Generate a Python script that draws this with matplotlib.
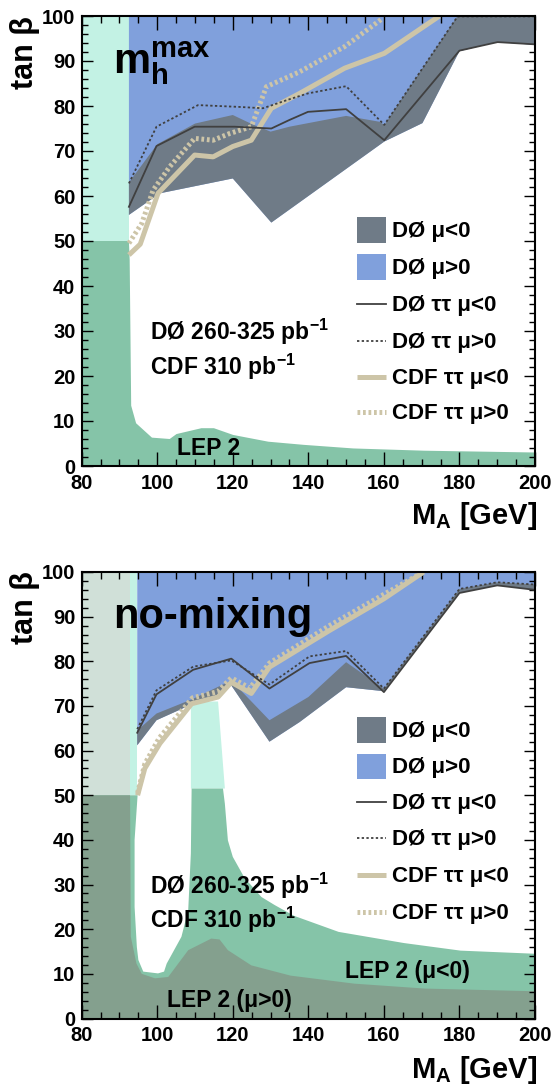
import numpy as np
import matplotlib.pyplot as plt
from matplotlib.patches import Rectangle

plt.rcParams['font.family'] = ['Liberation Sans', 'DejaVu Sans']
plt.rcParams['font.weight'] = 'bold'
plt.rcParams['mathtext.fontset'] = 'custom'
plt.rcParams['mathtext.rm'] = 'Liberation Sans:bold'
plt.rcParams['mathtext.bf'] = 'Liberation Sans:bold'
plt.rcParams['mathtext.it'] = 'Liberation Sans:bold'

# colours
c_gray = '#6f7b87'
c_blue = '#80a0dc'
c_tan = '#cdc5a8'
c_cyan = '#c3f2e4'
c_green = '#85c4a8'
c_lgray = '#d0e0d8'
c_dgreen = '#84a08e'
c_line = '#404040'

# ---------------- m_h^max panel ----------------
lep_x_top = [80, 80, 92.5, 92.7, 93.1, 94.4, 98.6, 103.3, 105.1, 111.7, 115, 120.1, 129.4, 138.8, 151.9, 170.6, 200, 200]
lep_y_top = [0, 50, 50, 45.8, 13.4, 9.5, 6.3, 6.0, 7.1, 8.4, 8.4, 6.9, 5.4, 4.7, 3.9, 3.4, 3.0, 0]
theo_x_top = [80, 92.5]
theo_y_top = [50, 100]

gray_up_x_top = [92.5, 100, 110, 120, 125, 130, 135, 150, 158.8, 160.1, 179.5, 200]
gray_up_y_top = [63, 71.5, 76.1, 78, 76, 74.3, 75.4, 77.8, 76.5, 75.8, 100, 100]
gray_lo_x_top = [92.5, 100.7, 120, 130.2, 160.1, 170.2, 180, 190, 200]
gray_lo_y_top = [55.8, 60.6, 63.9, 54.1, 72.1, 76.2, 92.2, 94.2, 93.6]
blue_x0_top, blue_x1_top = 92.5, 179.5

d0n_x_top = [92.5, 99.8, 109.9, 120.5, 130.2, 135, 139.9, 150, 160.1, 180, 190.1, 200]
d0n_y_top = [57.6, 71.1, 75.4, 75.4, 75.0, 76.9, 78.7, 79.3, 72.4, 92.3, 94.2, 93.7]
d0p_x_top = [92.5, 99.8, 110.8, 121.6, 128, 135, 139.9, 150, 160.1, 179.5, 200]
d0p_y_top = [62.8, 75.4, 80.2, 79.8, 79.5, 81.5, 82.8, 84.4, 75.8, 99.9, 99.9]
cdfn_x_top = [92.5, 95.5, 100.2, 109.9, 114.8, 120, 124.9, 130.2, 137.7, 149.6, 160.1, 174.7]
cdfn_y_top = [46.9, 49.3, 60.6, 69.1, 68.7, 71, 72.4, 79.5, 82.8, 88.4, 91.7, 100]
cdfp_x_top = [92.5, 95.9, 98.9, 103.3, 109.9, 114.8, 119.2, 124.9, 128.9, 137.7, 149.6, 159.7]
cdfp_y_top = [49.5, 53.9, 61.3, 66.5, 72.8, 72.4, 73.9, 75.4, 84.3, 87.6, 93.2, 99.5]

# ---------------- no-mixing panel ----------------
lepn_x_bot = [80, 80, 94.8, 94.0, 94.0, 94.6, 95.0, 96.3, 100.2, 101.8, 102.5, 106.4, 108.2, 108.9, 109.1,
              117.4, 117.9, 118.7, 120, 123.1, 127.6, 131.1, 136.2, 148, 165.3, 180.3, 200, 200]
lepn_y_bot = [0, 50, 50, 40, 25, 16, 13.1, 10.5, 10.1, 10.5, 12.3, 18.3, 24.3, 37, 51.5,
              51.5, 48.1, 39.9, 36.2, 31.5, 27.2, 25.4, 23, 19.4, 16.9, 15.2, 14.5, 0]
lepp_x_bot = [80, 80, 92.8, 93.0, 94.5, 95.9, 99.4, 102.9, 108.2, 114.3, 116.5, 118.7, 124.9, 135.3, 152.2, 170.9, 200, 200]
lepp_y_bot = [0, 50, 50, 18.3, 12.3, 10.0, 9.0, 9.3, 15.3, 17.9, 17.7, 15.3, 11.9, 9.6, 7.8, 6.7, 6.1, 0]
theon_x_bot = [80, 94.7]
theop_x_bot = [80, 92.8]
theo_y_bot = [50, 100]
peak_x_bot = [108.9, 108.9, 116.1, 117.9]
peak_y_bot = [51.5, 71, 71, 51.5]

gray_up_x_bot = [94.7, 99.8, 109.5, 119.6, 129.7, 140, 150, 160, 180, 190, 200]
gray_up_y_bot = [64.5, 68.3, 71.6, 75.7, 66.8, 72.0, 79.8, 73.9, 96.2, 97.7, 97.2]
gray_lo_x_bot = [94.7, 99.8, 109.5, 116, 119.6, 129.7, 137.7, 150, 160, 180, 190, 200]
gray_lo_y_bot = [61.2, 66.8, 70.5, 72.5, 74.6, 62.0, 66.4, 74.2, 73.3, 95.3, 97.0, 96.0]
blue_x0_bot, blue_x1_bot = 94.7, 200

d0n_x_bot = [94.7, 99.8, 109.5, 119.6, 129.7, 140.3, 150, 160, 180, 190, 200]
d0n_y_bot = [64.0, 72.6, 78.1, 80.6, 73.9, 79.6, 81.2, 73.1, 95.3, 97.0, 96.0]
d0p_x_bot = [94.7, 99.8, 109.5, 119.6, 129.7, 140.3, 150, 160, 180, 190, 200]
d0p_y_bot = [64.8, 73.5, 78.8, 80.2, 74.8, 81.1, 82.3, 73.9, 96.2, 97.7, 97.2]
cdfn_x_bot = [94.8, 96.7, 100.7, 109.1, 116.1, 119.6, 124.9, 129.7, 145.6, 160, 170.5]
cdfn_y_bot = [50, 56, 61.6, 70.5, 72, 75.3, 72.8, 78.7, 86.9, 94, 100]
cdfp_x_bot = [94.8, 96.7, 100.5, 109.3, 116, 119.6, 124.5, 129.7, 145.6, 160, 170.5]
cdfp_y_bot = [50.5, 57, 62.8, 71.8, 73.2, 76.3, 74.0, 79.6, 88.0, 95.0, 100]

legend_labels = ['DØ μ<0', 'DØ μ>0', 'DØ ττ μ<0', 'DØ ττ μ>0', 'CDF ττ μ<0', 'CDF ττ μ>0']
legend_y_top = [0.524, 0.442, 0.360, 0.278, 0.197, 0.120]
legend_y_bot = [0.646, 0.565, 0.484, 0.404, 0.321, 0.238]

W, H = 556, 1089
fig = plt.figure(figsize=(W / 100, H / 100), dpi=100)
ax1 = fig.add_axes([81.7 / W, 1 - 466 / H, 453.3 / W, 450 / H])
ax2 = fig.add_axes([81.7 / W, 1 - 1018.5 / H, 453.3 / W, 446.5 / H])


def fill_band(ax, ux, uy, lx, ly, color, z):
    px = list(ux) + list(lx)[::-1]
    py = list(uy) + list(ly)[::-1]
    ax.fill(px, py, color=color, lw=0, zorder=z)


def draw_lines(ax, d0n, d0p, cdfn, cdfp):
    ax.plot(cdfn[0], cdfn[1], color=c_tan, lw=3.6, solid_capstyle='butt', zorder=5)
    ax.plot(cdfp[0], cdfp[1], color=c_tan, lw=3.6, ls=(0, (0.55, 0.55)), dash_capstyle='butt', zorder=5)
    ax.plot(d0n[0], d0n[1], color=c_line, lw=1.3, zorder=6)
    ax.plot(d0p[0], d0p[1], color=c_line, lw=1.3, ls=(0, (1.3, 1.3)), zorder=6)


def draw_legend(ax, ys, hpx):
    x0, x1, xt = 0.608, 0.671, 0.684
    h = 25.4 / hpx
    ax.add_patch(Rectangle((x0, ys[0] - h / 2), x1 - x0, h, transform=ax.transAxes, color=c_gray, lw=0, zorder=7))
    ax.add_patch(Rectangle((x0, ys[1] - h / 2), x1 - x0, h, transform=ax.transAxes, color=c_blue, lw=0, zorder=7))
    ax.plot([x0, x1], [ys[2]] * 2, transform=ax.transAxes, color=c_line, lw=1.3, zorder=7)
    ax.plot([x0, x1], [ys[3]] * 2, transform=ax.transAxes, color=c_line, lw=1.3, ls=(0, (1.3, 1.3)), zorder=7)
    ax.plot([x0, x1], [ys[4]] * 2, transform=ax.transAxes, color=c_tan, lw=3.6, solid_capstyle='butt', zorder=7)
    ax.plot([x0, x1], [ys[5]] * 2, transform=ax.transAxes, color=c_tan, lw=3.6, ls=(0, (0.55, 0.55)),
            dash_capstyle='butt', zorder=7)
    for y, lab in zip(ys, legend_labels):
        ax.text(xt, y - 7 / hpx, lab, transform=ax.transAxes, fontsize=16, fontweight='bold',
                va='baseline', ha='left', zorder=8)


def style_axes(ax):
    ax.set_xlim(80, 200)
    ax.set_ylim(0, 100)
    ax.set_xticks(np.arange(80, 201, 20))
    ax.set_xticks(np.arange(80, 201, 5), minor=True)
    ax.set_yticks(np.arange(0, 101, 10))
    ax.set_yticks(np.arange(0, 101, 2), minor=True)
    ax.tick_params(axis='both', which='both', direction='in', top=True, right=True, width=1.0,
                   labelsize=14.5, zorder=10)
    ax.tick_params(axis='x', which='major', length=10, pad=5.5)
    ax.tick_params(axis='x', which='minor', length=5)
    ax.tick_params(axis='y', which='major', length=8, pad=4.5)
    ax.tick_params(axis='y', which='minor', length=4)
    for lab in ax.get_xticklabels() + ax.get_yticklabels():
        lab.set_fontweight('bold')
    for s in ax.spines.values():
        s.set_linewidth(1.5)
        s.set_zorder(12)
    ax.set_axisbelow(False)


# ----- top panel -----
ax = ax1
ax.fill_between(theo_x_top, theo_y_top[0], theo_y_top[1], color=c_cyan, lw=0, zorder=1)
ax.fill(lep_x_top, lep_y_top, color=c_green, lw=0, zorder=1)
fill_band(ax, [blue_x0_top, blue_x1_top], [100, 100], gray_lo_x_top, gray_lo_y_top, c_blue, 2)
fill_band(ax, gray_up_x_top, gray_up_y_top, gray_lo_x_top, gray_lo_y_top, c_gray, 3)
draw_lines(ax, (d0n_x_top, d0n_y_top), (d0p_x_top, d0p_y_top), (cdfn_x_top, cdfn_y_top), (cdfp_x_top, cdfp_y_top))
draw_legend(ax, legend_y_top, 450)
style_axes(ax)
ax.text(88.3, 87.3, r'm$_{\mathbf{h}}^{\mathbf{max}}$', fontsize=30, fontweight='bold', va='baseline', zorder=8)
ax.text(98.2, 28, r'DØ 260-325 pb$^{\mathbf{-1}}$', fontsize=16.5, fontweight='bold', va='baseline', zorder=8)
ax.text(98.2, 20.2, r'CDF 310 pb$^{\mathbf{-1}}$', fontsize=16.5, fontweight='bold', va='baseline', zorder=8)
ax.text(105.3, 2.4, 'LEP 2', fontsize=16.5, fontweight='bold', va='baseline', zorder=8)

# ----- bottom panel -----
ax = ax2
ax.fill_between(theon_x_bot, theo_y_bot[0], theo_y_bot[1], color=c_cyan, lw=0, zorder=1)
ax.fill(peak_x_bot, peak_y_bot, color=c_cyan, lw=0, zorder=1)
ax.fill(lepn_x_bot, lepn_y_bot, color=c_green, lw=0, zorder=1)
ax.fill_between(theop_x_bot, theo_y_bot[0], theo_y_bot[1], color=c_lgray, lw=0, zorder=1)
ax.fill(lepp_x_bot, lepp_y_bot, color=c_dgreen, lw=0, zorder=1)
fill_band(ax, [blue_x0_bot, blue_x1_bot], [100, 100], gray_lo_x_bot, gray_lo_y_bot, c_blue, 2)
fill_band(ax, gray_up_x_bot, gray_up_y_bot, gray_lo_x_bot, gray_lo_y_bot, c_gray, 3)
draw_lines(ax, (d0n_x_bot, d0n_y_bot), (d0p_x_bot, d0p_y_bot), (cdfn_x_bot, cdfn_y_bot), (cdfp_x_bot, cdfp_y_bot))
draw_legend(ax, legend_y_bot, 446.5)
style_axes(ax)
ax.text(88.4, 87.4, 'no-mixing', fontsize=30, fontweight='bold', va='baseline', zorder=8)
ax.text(98.2, 28, r'DØ 260-325 pb$^{\mathbf{-1}}$', fontsize=16.5, fontweight='bold', va='baseline', zorder=8)
ax.text(98.2, 20.2, r'CDF 310 pb$^{\mathbf{-1}}$', fontsize=16.5, fontweight='bold', va='baseline', zorder=8)
ax.text(149.8, 9.0, 'LEP 2 (μ<0)', fontsize=16.5, fontweight='bold', va='baseline', zorder=8)
ax.text(102.5, 2.6, 'LEP 2 (μ>0)', fontsize=16.5, fontweight='bold', va='baseline', zorder=8)

# axis titles
for top_px, xl_px in [(16, 524), (571.5, 1078)]:
    fig.text(25 / W, 1 - top_px / H, 'tan β', rotation=90, fontsize=22, fontweight='bold',
             ha='center', va='top')
    fig.text(537 / W, 1 - xl_px / H, r'M$_{\mathbf{A}}$ [GeV]', fontsize=21, fontweight='bold',
             ha='right', va='baseline')

fig.savefig('out.png', dpi=100)
